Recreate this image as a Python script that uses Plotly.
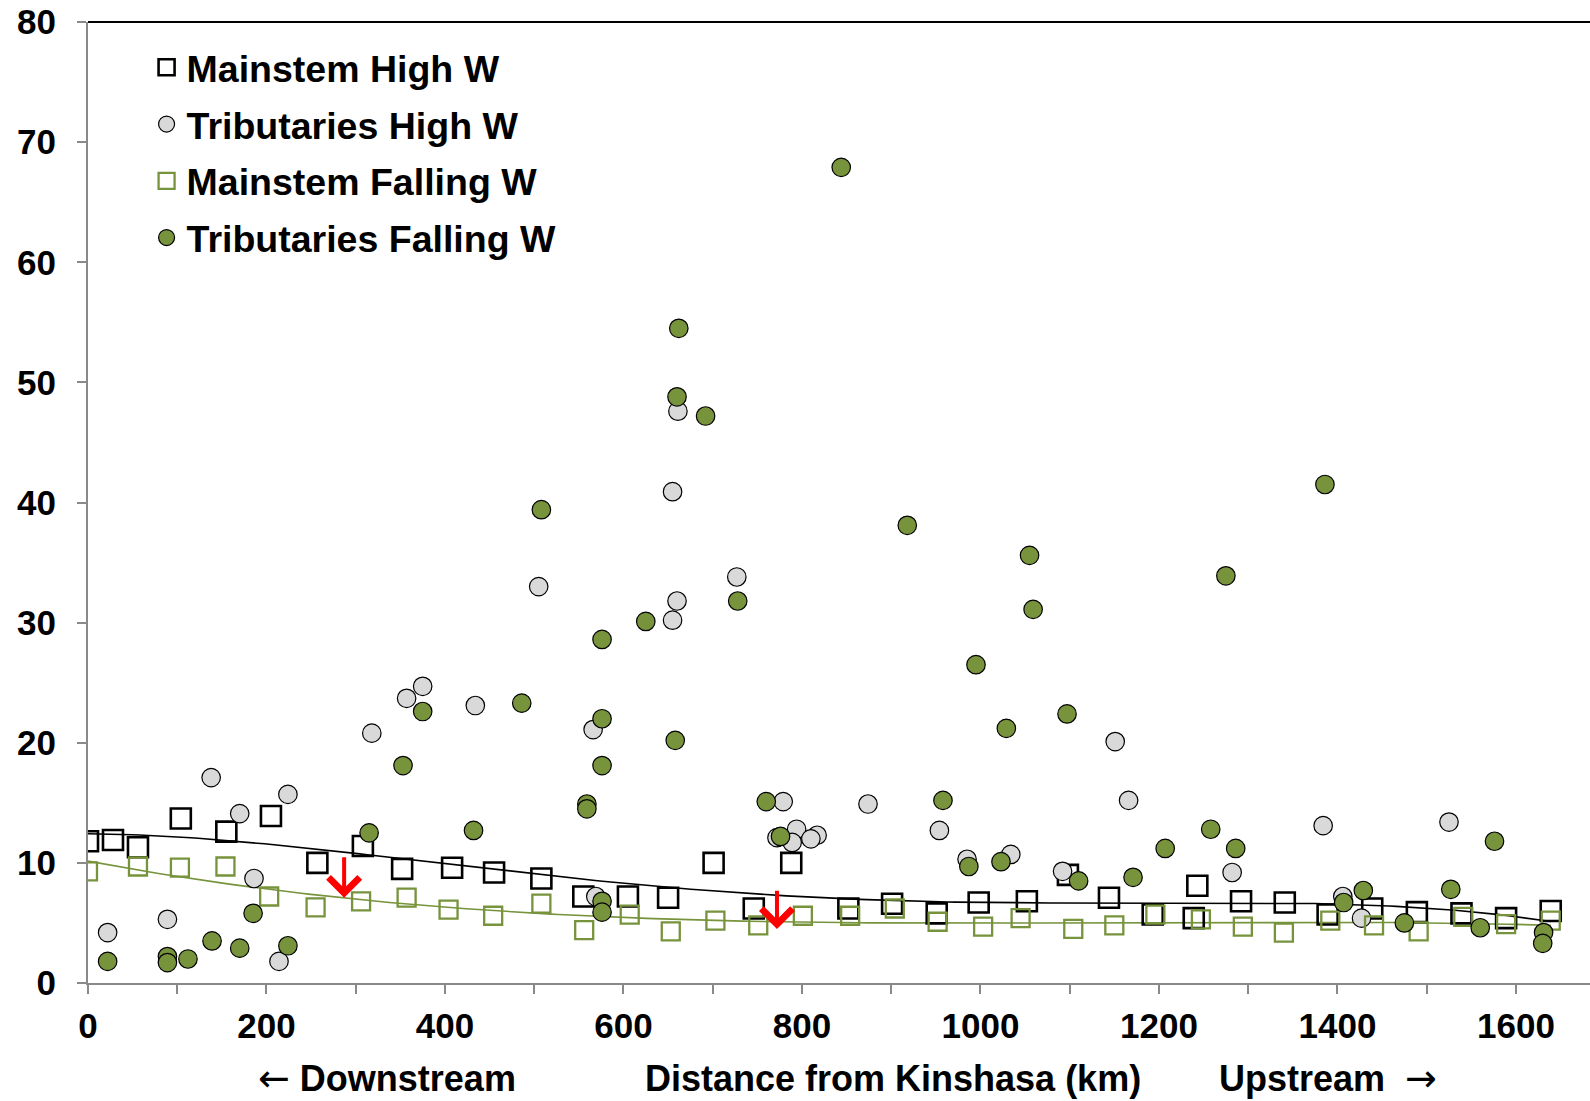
import numpy as np
import plotly.graph_objects as go

# ---- data (distance from Kinshasa in km, value) ----
mh_x = [0, 28, 56, 104, 155, 205, 257, 308, 352, 408, 455, 508, 555, 605, 650, 701, 746, 788,
        852, 901, 951, 998, 1052, 1098, 1144, 1193, 1243, 1239, 1292, 1341, 1389, 1439, 1489, 1539, 1589, 1639]
mh_y = [11.8, 11.9, 11.3, 13.7, 12.6, 13.9, 10.0, 11.4, 9.5, 9.6, 9.2, 8.7, 7.2, 7.2, 7.1, 10.0, 6.2, 10.0,
        6.2, 6.6, 5.8, 6.7, 6.8, 9.0, 7.1, 5.7, 8.1, 5.4, 6.8, 6.7, 5.7, 6.2, 5.9, 5.8, 5.4, 6.0]

th_x = [22, 89, 138, 170, 224, 186, 214, 318, 357, 375, 434, 566, 569, 505, 655, 661, 660, 655, 727,
        779, 794, 817, 772, 789, 810, 874, 954, 985, 1034, 1092, 1151, 1166, 1282, 1384, 1406, 1427, 1525]
th_y = [4.2, 5.3, 17.1, 14.1, 15.7, 8.7, 1.8, 20.8, 23.7, 24.7, 23.1, 21.1, 7.2, 33.0, 40.9, 47.6, 31.8, 30.2, 33.8,
        15.1, 12.8, 12.3, 12.1, 11.7, 12.0, 14.9, 12.7, 10.3, 10.7, 9.3, 20.1, 15.2, 9.2, 13.1, 7.2, 5.4, 13.4]

mf_x = [0, 56, 103, 154, 203, 255, 306, 357, 404, 454, 508, 556, 607, 653, 703, 751, 801, 854,
        904, 952, 1003, 1045, 1104, 1150, 1196, 1247, 1294, 1340, 1392, 1441, 1491, 1541, 1589, 1639]
mf_y = [9.3, 9.7, 9.6, 9.7, 7.2, 6.3, 6.8, 7.1, 6.1, 5.6, 6.6, 4.4, 5.7, 4.3, 5.2, 4.8, 5.6, 5.6,
        6.2, 5.1, 4.7, 5.4, 4.5, 4.8, 5.7, 5.3, 4.7, 4.2, 5.2, 4.8, 4.3, 5.5, 4.9, 5.2]

tf_x = [22, 89, 89, 112, 139, 170, 224, 185, 315, 353, 375, 432, 508, 486, 576, 625, 576, 576, 559, 559,
        576, 576, 658, 662, 660, 692, 728, 760, 776, 844, 918, 958, 987, 995, 1023, 1029, 1055, 1059,
        1097, 1110, 1171, 1207, 1258, 1275, 1286, 1386, 1407, 1429, 1475, 1527, 1560, 1576, 1631, 1630]
tf_y = [1.8, 2.2, 1.7, 2.0, 3.5, 2.9, 3.1, 5.8, 12.5, 18.1, 22.6, 12.7, 39.4, 23.3, 28.6, 30.1, 22.0, 18.1, 14.9, 14.5,
        6.8, 5.9, 20.2, 54.5, 48.8, 47.2, 31.8, 15.1, 12.2, 67.9, 38.1, 15.2, 9.7, 26.5, 10.1, 21.2, 35.6, 31.1,
        22.4, 8.5, 8.8, 11.2, 12.8, 33.9, 11.2, 41.5, 6.7, 7.7, 5.0, 7.8, 4.6, 11.8, 4.2, 3.3]

series_names = ["Mainstem High W", "Tributaries High W", "Mainstem Falling W", "Tributaries Falling W"]

# red arrows: (x, start value, end value)
arrow_x = [287, 772]
arrow_from = [10.6, 7.8]
arrow_to = [7.1, 4.5]

x_tick_vals = [0, 200, 400, 600, 800, 1000, 1200, 1400, 1600]
y_tick_vals = [0, 10, 20, 30, 40, 50, 60, 70, 80]

GREEN = "#77933C"
GRAY_FILL = "#D9D9D9"
AXIS_GRAY = "#898989"
FONT = "Liberation Sans, Arial, sans-serif"


def trend(xs, ys, deg):
    c = np.polyfit(xs, ys, deg)
    xx = np.linspace(min(xs), max(xs), 200)
    return xx, np.polyval(c, xx)


fig = go.Figure()

tx, ty = trend(mh_x, mh_y, 4)
fig.add_trace(go.Scatter(x=tx, y=ty, mode="lines", line=dict(color="black", width=1.6),
                         showlegend=False, hoverinfo="skip"))
tx, ty = trend(mf_x, mf_y, 3)
fig.add_trace(go.Scatter(x=tx, y=ty, mode="lines", line=dict(color=GREEN, width=1.6),
                         showlegend=False, hoverinfo="skip"))

fig.add_trace(go.Scatter(x=mh_x, y=mh_y, mode="markers", name=series_names[0], legendgroup="a",
                         marker=dict(symbol="square-open", size=20, color="black", line=dict(width=2.6, color="black"))))
fig.add_trace(go.Scatter(x=th_x, y=th_y, mode="markers", name=series_names[1], legendgroup="b",
                         marker=dict(symbol="circle", size=18.5, color=GRAY_FILL, line=dict(width=1.2, color="black"))))
fig.add_trace(go.Scatter(x=mf_x, y=mf_y, mode="markers", name=series_names[2], legendgroup="c",
                         marker=dict(symbol="square-open", size=18, color=GREEN, line=dict(width=2.3, color=GREEN))))
fig.add_trace(go.Scatter(x=tf_x, y=tf_y, mode="markers", name=series_names[3], legendgroup="d",
                         marker=dict(symbol="circle", size=18.5, color=GREEN, line=dict(width=1.2, color="black"))))

for ax_, a0, a1 in zip(arrow_x, arrow_from, arrow_to):
    fig.add_annotation(x=ax_, y=a1, ax=ax_, ay=a0, xref="x", yref="y", axref="x", ayref="y",
                       showarrow=True, arrowhead=4, arrowsize=1.5, arrowwidth=4, arrowcolor="#FF0000", text="")

ARROW_SPAN = '<span style="font-family:DejaVu Sans;font-weight:normal;font-size:38px">{}</span>'
title_font = dict(family=FONT, size=36, color="black", weight="bold")
axis_titles = [
    (ARROW_SPAN.format("\u2190") + " Downstream", 0.199),
    ("Distance from Kinshasa (km)", 0.536),
    ("Upstream  " + ARROW_SPAN.format("\u2192"), 0.8256),
]
for txt, xp in axis_titles:
    fig.add_annotation(text=txt, x=xp, y=-0.099, xref="paper", yref="paper", showarrow=False,
                       xanchor="center", yanchor="middle", font=title_font)

# black top border of the plot area
fig.add_shape(type="line", xref="paper", yref="paper", x0=0, x1=1, y0=1, y1=1,
              line=dict(color="black", width=2))

fig.update_layout(
    width=1590, height=1101,
    margin=dict(l=88, r=0, t=22, b=118),
    plot_bgcolor="white", paper_bgcolor="white",
    font=dict(family=FONT, color="black"),
    legend=dict(x=0.039, y=0.985, xanchor="left", yanchor="top", bgcolor="rgba(0,0,0,0)",
                font=dict(family=FONT, size=37.5, color="black", weight="bold"),
                tracegroupgap=5, itemsizing="trace"),
    xaxis=dict(range=[0, 1683], tickvals=x_tick_vals, showgrid=False, zeroline=False,
               showline=True, linecolor=AXIS_GRAY, linewidth=2,
               ticks="outside", ticklen=9, tickwidth=2, tickcolor=AXIS_GRAY,
               minor=dict(dtick=100, tick0=0, ticks="outside", ticklen=9, tickwidth=2, tickcolor=AXIS_GRAY),
               tickfont=dict(family=FONT, size=35, color="black", weight="bold"), ticklabelstandoff=2),
    yaxis=dict(range=[0, 80], tickvals=y_tick_vals, showgrid=False, zeroline=False,
               showline=True, linecolor=AXIS_GRAY, linewidth=2,
               ticks="outside", ticklen=9, tickwidth=2, tickcolor=AXIS_GRAY,
               ticklabeloverflow="allow",
               tickfont=dict(family=FONT, size=35, color="black", weight="bold"), ticklabelstandoff=14),
)

# remove the browser's default 8px body margin so the figure fills the window exactly
fig.write_html("out.html", config={"displayModeBar": False},
               post_script="document.body.style.margin='0';")
